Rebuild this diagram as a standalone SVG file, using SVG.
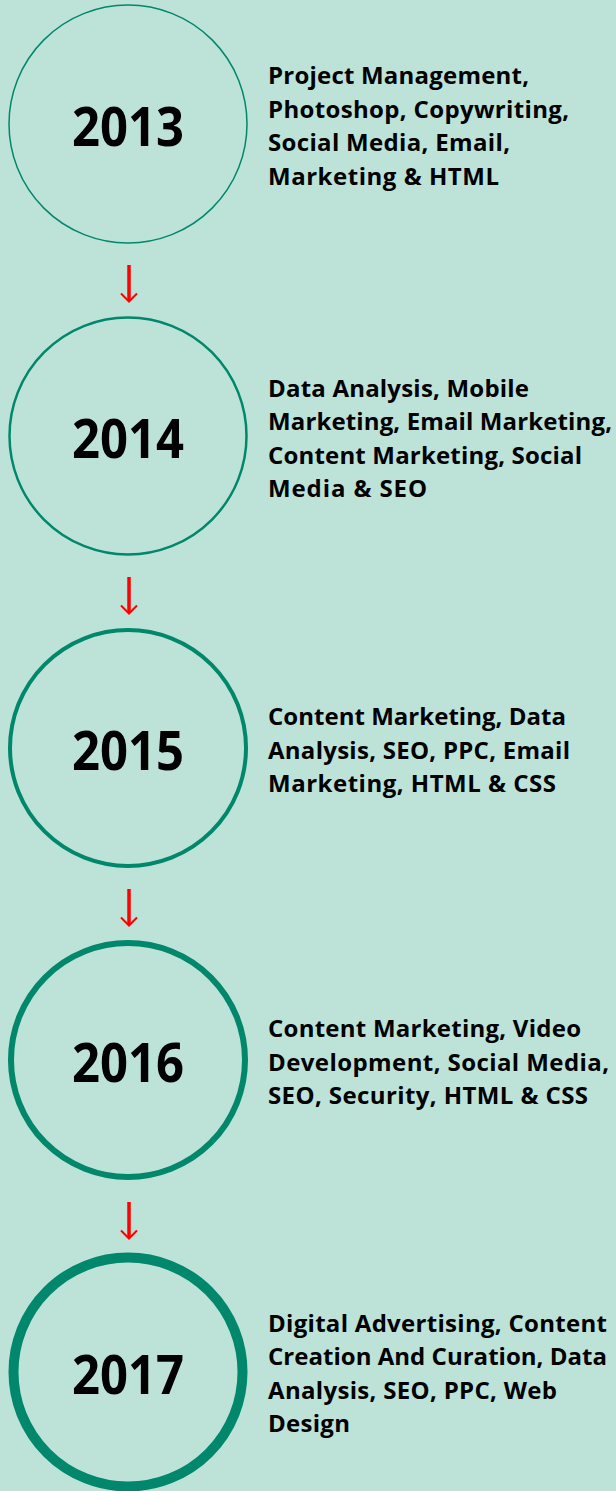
<svg xmlns="http://www.w3.org/2000/svg" width="616" height="1491" viewBox="0 0 616 1491">
<style>
.ring{fill:none;stroke:#00876c}
.year{font-family:"Open Sans","Noto Sans",sans-serif;font-weight:700;font-size:54px;fill:#000;text-anchor:middle}
.desc{font-family:"Open Sans","Noto Sans",sans-serif;font-weight:700;font-size:24px;fill:#000}
.arr{fill:none;stroke:#ff0000;stroke-linecap:butt}
</style>
<rect width="616" height="1491" fill="#bde3d8"/>
<g id="n2013">
<circle class="ring" cx="128" cy="124" r="119" stroke-width="1.5"/>
<text class="year" x="128" y="146" textLength="112" lengthAdjust="spacingAndGlyphs">2013</text>
<text class="desc" lengthAdjust="spacingAndGlyphs"><tspan x="268" y="84" textLength="261">Project Management,</tspan><tspan x="268" y="118" textLength="301">Photoshop, Copywriting,</tspan><tspan x="268" y="151" textLength="242">Social Media, Email,</tspan><tspan x="268" y="185" textLength="231">Marketing &amp; HTML</tspan></text>
</g>
<g id="n2014">
<circle class="ring" cx="128" cy="436" r="118.5" stroke-width="2.5"/>
<text class="year" x="128" y="458" textLength="112" lengthAdjust="spacingAndGlyphs">2014</text>
<text class="desc" lengthAdjust="spacingAndGlyphs"><tspan x="268" y="397" textLength="261">Data Analysis, Mobile</tspan><tspan x="268" y="430" textLength="344">Marketing, Email Marketing,</tspan><tspan x="268" y="464" textLength="314">Content Marketing, Social</tspan><tspan x="268" y="497" textLength="159">Media &amp; SEO</tspan></text>
</g>
<g id="n2015">
<circle class="ring" cx="128" cy="748" r="118" stroke-width="4"/>
<text class="year" x="128" y="770" textLength="112" lengthAdjust="spacingAndGlyphs">2015</text>
<text class="desc" lengthAdjust="spacingAndGlyphs"><tspan x="268" y="725" textLength="298">Content Marketing, Data</tspan><tspan x="268" y="759" textLength="302">Analysis, SEO, PPC, Email</tspan><tspan x="268" y="792" textLength="288">Marketing, HTML &amp; CSS</tspan></text>
</g>
<g id="n2016">
<circle class="ring" cx="128" cy="1060" r="117" stroke-width="6"/>
<text class="year" x="128" y="1082" textLength="112" lengthAdjust="spacingAndGlyphs">2016</text>
<text class="desc" lengthAdjust="spacingAndGlyphs"><tspan x="268" y="1037" textLength="313">Content Marketing, Video</tspan><tspan x="268" y="1071" textLength="341">Development, Social Media,</tspan><tspan x="268" y="1104" textLength="320">SEO, Security, HTML &amp; CSS</tspan></text>
</g>
<g id="n2017">
<circle class="ring" cx="128" cy="1372" r="114.5" stroke-width="10"/>
<text class="year" x="128" y="1394" textLength="112" lengthAdjust="spacingAndGlyphs">2017</text>
<text class="desc" lengthAdjust="spacingAndGlyphs"><tspan x="268" y="1332" textLength="339">Digital Advertising, Content</tspan><tspan x="268" y="1365" textLength="339">Creation And Curation, Data</tspan><tspan x="268" y="1399" textLength="289">Analysis, SEO, PPC, Web</tspan><tspan x="268" y="1432" textLength="82">Design</tspan></text>
</g>
<g id="connectors">
<path class="arr" stroke-width="3.5" d="M129 265V301"/><path class="arr" stroke-width="2" d="M121 293.5L129 301.5L137 293.5"/>
<path class="arr" stroke-width="3.5" d="M129 577V613"/><path class="arr" stroke-width="2" d="M121 605.5L129 613.5L137 605.5"/>
<path class="arr" stroke-width="3.5" d="M129 889V925"/><path class="arr" stroke-width="2" d="M121 917.5L129 925.5L137 917.5"/>
<path class="arr" stroke-width="3.5" d="M129 1202V1238"/><path class="arr" stroke-width="2" d="M121 1230.5L129 1238.5L137 1230.5"/>
</g>
</svg>
